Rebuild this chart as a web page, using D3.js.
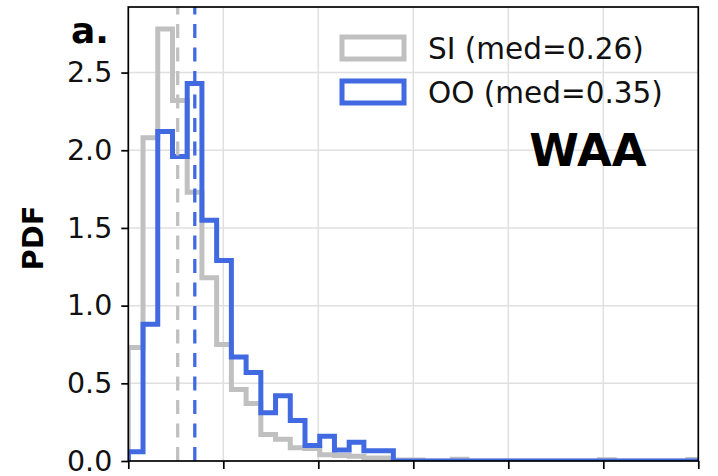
<!DOCTYPE html>
<html>
<head>
<meta charset="utf-8">
<script src="https://cdn.jsdelivr.net/npm/d3@7"></script>
<style>
  body { margin: 0; background: #fff; }
  svg { display: block; font-family: "DejaVu Sans", sans-serif; }
</style>
</head>
<body>
<svg id="chart" width="718" height="476"></svg>
<script>
// Histogram bin width (shared by both series), in data units
const binWidth = 0.0775;

// Probability density per bin, starting at 0
const siDensity = [0.73, 2.08, 2.78, 2.32, 1.73, 1.18, 0.75, 0.46, 0.37, 0.17,
                   0.14, 0.085, 0.08, 0.04, 0.035, 0.03, 0.02, 0.02, 0.006, 0.006,
                   0, 0, 0.012, 0, 0, 0, 0, 0, 0, 0,
                   0, 0, 0.008, 0, 0, 0, 0, 0, 0.01, 0];
const ooDensity = [0.06, 0.88, 2.12, 1.96, 2.43, 1.55, 1.29, 0.67, 0.57, 0.31,
                   0.42, 0.26, 0.10, 0.16, 0.07, 0.12, 0.066, 0.066, 0, 0,
                   0, 0, 0, 0, 0, 0, 0, 0, 0, 0,
                   0, 0, 0, 0, 0, 0, 0, 0, 0, 0];

const seriesNames = ["SI", "OO"];
const seriesMedians = [0.26, 0.35];
const seriesColors = ["#c0c0c0", "#4169e1"];

const xTicks = [0, 0.5, 1.0, 1.5, 2.0, 2.5, 3.0];
const yTicks = [0, 0.5, 1.0, 1.5, 2.0, 2.5];
const yTickLabels = ["0.0", "0.5", "1.0", "1.5", "2.0", "2.5"];

const panelLabel = "a.";
const regionLabel = "WAA";
const yAxisTitle = "PDF";

// Plot area
const plot = { left: 128.3, right: 698.3, top: 7, bottom: 461 };

const svg = d3.select("#chart");

const x = d3.scaleLinear().domain([0, 3.0]).range([plot.left, plot.right]);
const y = d3.scaleLinear().domain([0, 2.922]).range([plot.bottom, plot.top]);

svg.append("defs").append("clipPath").attr("id", "plot-clip")
  .append("rect")
  .attr("x", plot.left).attr("y", plot.top)
  .attr("width", plot.right - plot.left).attr("height", plot.bottom - plot.top);

// Grid
const grid = svg.append("g").attr("stroke", "#e0e0e0").attr("stroke-width", 1.5);
grid.selectAll("line.gx").data(xTicks.slice(1, -1)).join("line")
  .attr("x1", d => x(d)).attr("x2", d => x(d))
  .attr("y1", plot.top).attr("y2", plot.bottom);
grid.selectAll("line.gy").data(yTicks.slice(1)).join("line")
  .attr("x1", plot.left).attr("x2", plot.right)
  .attr("y1", d => y(d)).attr("y2", d => y(d));

// Step outline of a histogram
function stepPoints(density) {
  const pts = [[0, 0]];
  density.forEach((h, i) => {
    pts.push([i * binWidth, h]);
    pts.push([(i + 1) * binWidth, h]);
  });
  pts.push([density.length * binWidth, 0]);
  return pts;
}
const line = d3.line().x(d => x(d[0])).y(d => y(d[1]));

const marks = svg.append("g").attr("clip-path", "url(#plot-clip)");
[siDensity, ooDensity].forEach((dens, i) => {
  marks.append("path")
    .attr("d", line(stepPoints(dens)))
    .attr("fill", "none")
    .attr("stroke", seriesColors[i])
    .attr("stroke-width", 5)
    .attr("stroke-linejoin", "miter");
});

// Median lines
marks.selectAll("line.median").data(seriesMedians).join("line")
  .attr("class", "median")
  .attr("x1", d => x(d)).attr("x2", d => x(d))
  .attr("y1", plot.bottom).attr("y2", plot.top)
  .attr("stroke", (d, i) => seriesColors[i])
  .attr("stroke-width", 3.3)
  .attr("stroke-dasharray", "14,9.5");

// Axes
const yAxis = d3.axisLeft(y).tickValues(yTicks)
  .tickFormat((d, i) => yTickLabels[i]).tickSize(7).tickPadding(9);
const gy = svg.append("g").attr("transform", `translate(${plot.left},0)`).call(yAxis);
const xAxis = d3.axisBottom(x).tickValues(xTicks).tickFormat("").tickSize(8);
const gx = svg.append("g").attr("transform", `translate(0,${plot.bottom})`).call(xAxis);
[gx, gy].forEach(g => {
  g.select(".domain").remove();
  g.selectAll(".tick line").attr("stroke", "#000").attr("stroke-width", 1.7);
});
gy.selectAll(".tick text")
  .attr("font-family", "DejaVu Sans").attr("font-size", 28.5).attr("fill", "#111");

// Frame
svg.append("rect")
  .attr("x", plot.left).attr("y", plot.top)
  .attr("width", plot.right - plot.left).attr("height", plot.bottom - plot.top)
  .attr("fill", "none").attr("stroke", "#000").attr("stroke-width", 1.7);

// Axis title
svg.append("text")
  .attr("transform", "translate(43,238) rotate(-90)")
  .attr("text-anchor", "middle")
  .attr("font-weight", "bold").attr("font-size", 29)
  .text(yAxisTitle);

// Panel label
svg.append("text")
  .attr("x", 109).attr("y", 43).attr("text-anchor", "end")
  .attr("font-weight", "bold").attr("font-size", 36)
  .text(panelLabel);

// Legend
const legend = svg.append("g");
seriesNames.forEach((name, i) => {
  const rowY = 48 + i * 44;
  legend.append("rect")
    .attr("x", 342).attr("y", rowY - 11)
    .attr("width", 62).attr("height", 22)
    .attr("fill", "none").attr("stroke", seriesColors[i]).attr("stroke-width", 5);
  legend.append("text")
    .attr("x", 428).attr("y", rowY + 11)
    .attr("font-size", 29.5).attr("fill", "#111")
    .text(`${name} (med=${seriesMedians[i].toFixed(2)})`);
});

// Region label
svg.append("text")
  .attr("x", 588).attr("y", 166).attr("text-anchor", "middle")
  .attr("font-weight", "bold").attr("font-size", 45)
  .text(regionLabel);
</script>
</body>
</html>
